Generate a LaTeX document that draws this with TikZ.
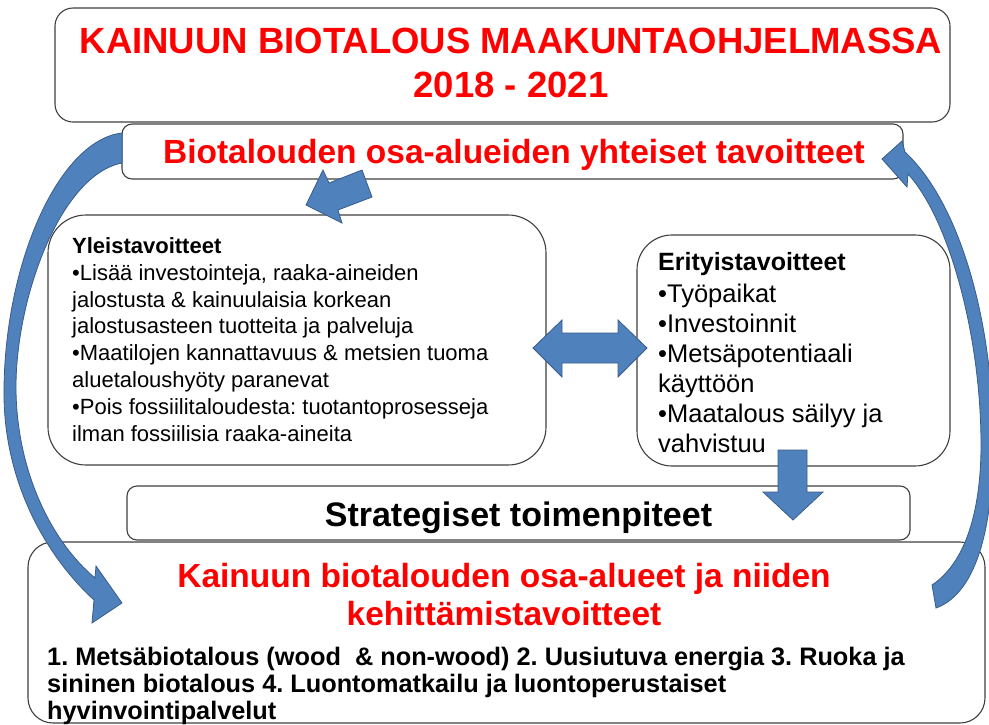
\documentclass[tikz,border=0pt]{standalone}
\usepackage{fontspec}
\setmainfont{Liberation Sans}
\usepackage{xcolor}
\usetikzlibrary{positioning}
\definecolor{boxline}{HTML}{404040}
\definecolor{arrowblue}{HTML}{4F81BD}
\definecolor{arrowedge}{HTML}{385D8A}
\frenchspacing

\begin{document}
\begin{tikzpicture}[
  x=1pt, y=-1pt,
  box/.style={draw=boxline, line width=1.1pt, fill=white, rounded corners=#1, inner sep=0pt},
  box/.default=10pt,
  redhead/.style={text=red, inner sep=0pt},
  plain/.style={inner sep=0pt},
  blockarrow/.style={fill=arrowblue, draw=arrowedge, line width=0.8pt, line join=miter}
]
  \path[use as bounding box, fill=white] (0,0) rectangle (989,724);

  % Title
  \node[box=18pt, minimum width=895pt, minimum height=114pt] (titlebox) at (502.5,65) {};
  \node[redhead, anchor=base, align=center, font=\fontsize{36.5}{44}\selectfont\bfseries] (title) at (511,97)
    {KAINUUN BIOTALOUS MAAKUNTAOHJELMASSA\\2018 - 2021};

  % Common goals
  \node[box, minimum width=781pt, minimum height=55pt] (goals) at (512.5,151.5) {};
  \node[redhead, anchor=base, font=\fontsize{33.5}{38}\selectfont\bfseries] (goalstext) at (514,163)
    {Biotalouden osa-alueiden yhteiset tavoitteet};

  % General goals
  \node[box=38pt, minimum width=498pt, minimum height=250pt] (yleis) at (297,340) {};
  \node[plain, anchor=base west, align=left, font=\fontsize{22}{26.8}\selectfont] (yleistext) at (72,441)
    {\textbf{Yleistavoitteet}\\
     •Lisää investointeja, raaka-aineiden\\
     jalostusta \& kainuulaisia korkean\\
     jalostusasteen tuotteita ja palveluja\\
     •Maatilojen kannattavuus \& metsien tuoma\\
     aluetaloushyöty paranevat\\
     •Pois fossiilitaloudesta: tuotantoprosesseja\\
     ilman fossiilisia raaka-aineita};

  % Specific goals
  \node[box=35pt, minimum width=313pt, minimum height=231pt] (eri) at (793.5,350.5) {};
  \node[plain, anchor=base west, font=\fontsize{25}{30}\selectfont\bfseries] (erihead) at (658,270)
    {Erityistavoitteet};
  \node[plain, anchor=base west, align=left, font=\fontsize{25.5}{30}\selectfont] (eritext) at (658,452)
    {•Työpaikat\\•Investoinnit\\•Metsäpotentiaali\\käyttöön\\•Maatalous säilyy ja\\vahvistuu};

  % Sub-areas and measures
  \node[box=25pt, minimum width=957pt, minimum height=181pt] (alueet) at (506.5,632.5) {};
  \node[box, minimum width=783pt, minimum height=54pt] (strat) at (518.5,513) {};
  \node[plain, anchor=base, font=\fontsize{34}{38}\selectfont\bfseries] (strattext) at (518.5,526)
    {Strategiset toimenpiteet};
  \node[redhead, anchor=base, align=center, font=\fontsize{33.5}{38}\selectfont\bfseries] (alueethead) at (504,625)
    {Kainuun biotalouden osa-alueet ja niiden\\kehittämistavoitteet};
  \node[plain, anchor=base west, align=left, font=\fontsize{25.3}{27}\selectfont\bfseries] (alueettext) at (47,719)
    {1. Metsäbiotalous (wood\ \ \& non-wood) 2. Uusiutuva energia 3. Ruoka ja\\
     sininen biotalous 4. Luontomatkailu ja luontoperustaiset\\
     hyvinvointipalvelut};

  % Block arrows
  \draw[blockarrow] (306,205) -- (323,170) -- (329,183) -- (362,170) -- (372,197) -- (338,210) -- (342,223) -- cycle;
  \draw[blockarrow] (533,348) -- (562,320) -- (562,333) -- (618,333) -- (618,320) -- (647,348)
    -- (618,377) -- (618,363) -- (562,363) -- (562,377) -- cycle;
  \draw[blockarrow] (778,450) -- (807,450) -- (807,492) -- (823,492) -- (793,520) -- (763,492) -- (778,492) -- cycle;

  % Curved arrows round the sides
  \draw[blockarrow] (122,133) .. controls (60,140) and (5,260) .. (4,390)
    .. controls (3,480) and (45,555) .. (94,600) -- (92,623) -- (122,603) -- (96,566) -- (95,578)
    .. controls (50,540) and (17,470) .. (16,390) .. controls (15,300) and (60,175) .. (122,163) -- cycle;
  \draw[blockarrow] (932,585) .. controls (962,565) and (980,520) .. (981,450)
    .. controls (982,340) and (950,220) .. (908,174) -- (907,187) -- (882,159) -- (902,141) -- (905,152)
    .. controls (962,205) and (995,330) .. (993,450) .. controls (992,540) and (972,595) .. (936,608) -- cycle;
\end{tikzpicture}
\end{document}
